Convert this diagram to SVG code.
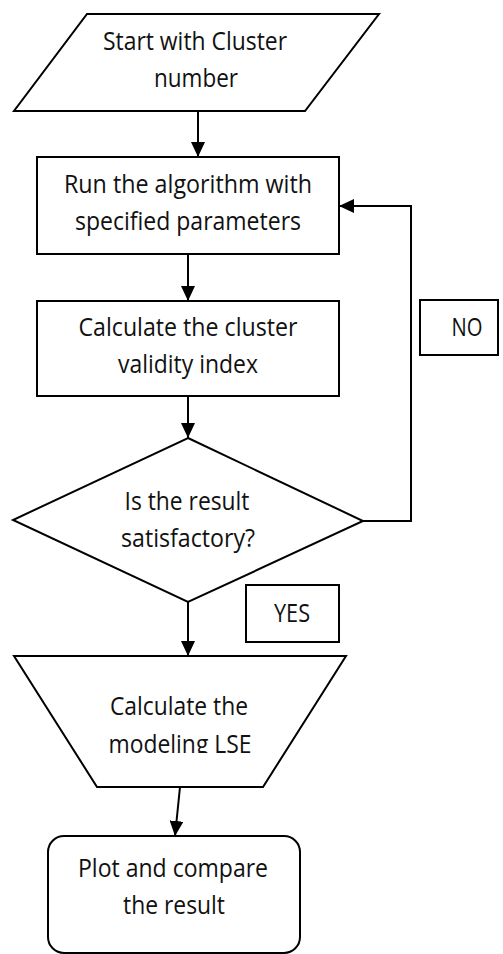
<svg xmlns="http://www.w3.org/2000/svg" width="503" height="954" viewBox="0 0 503 954">
<style>
.shape{fill:#fff;stroke:#000;stroke-width:2;stroke-linejoin:miter}
.conn{fill:none;stroke:#000;stroke-width:2}
text{font-family:"Open Sans","Noto Sans","Liberation Sans",sans-serif;font-size:25px;fill:#111;text-anchor:middle}
</style>
<defs>
<marker id="ah" markerUnits="userSpaceOnUse" markerWidth="15" markerHeight="14" refX="15" refY="7" orient="auto">
<path d="M0,0 L15,7 L0,14 z" fill="#000"/>
</marker>
<clipPath id="clipLSE"><rect x="0" y="0" width="503" height="753"/></clipPath>
</defs>
<rect width="503" height="954" fill="#fff"/>
<g id="connectors">
<line class="conn" x1="198" y1="111" x2="198" y2="157" marker-end="url(#ah)"/>
<line class="conn" x1="188" y1="254" x2="188" y2="301" marker-end="url(#ah)"/>
<line class="conn" x1="188" y1="396" x2="188" y2="438" marker-end="url(#ah)"/>
<line class="conn" x1="188" y1="602" x2="188" y2="656" marker-end="url(#ah)"/>
<line class="conn" x1="180" y1="787" x2="175" y2="836" marker-end="url(#ah)"/>
<polyline class="conn" points="363,521 411,521 411,206 339,206" marker-end="url(#ah)"/>
</g>
<g id="start">
<polygon class="shape" points="87,14 379,14 305,111 14,111"/>
<text x="195" y="50" textLength="184" lengthAdjust="spacingAndGlyphs">Start with Cluster</text>
<text x="196" y="87" textLength="84" lengthAdjust="spacingAndGlyphs">number</text>
</g>
<g id="run">
<rect class="shape" x="37" y="157" width="302" height="97"/>
<text x="188" y="193" textLength="248" lengthAdjust="spacingAndGlyphs">Run the algorithm with</text>
<text x="188" y="230" textLength="226" lengthAdjust="spacingAndGlyphs">specified parameters</text>
</g>
<g id="validity">
<rect class="shape" x="37" y="301" width="302" height="95"/>
<text x="188" y="336" textLength="219" lengthAdjust="spacingAndGlyphs">Calculate the cluster</text>
<text x="188" y="373" textLength="140" lengthAdjust="spacingAndGlyphs">validity index</text>
</g>
<g id="decision">
<polygon class="shape" points="188,438 363,521 188,602 13,520"/>
<text x="187" y="510" textLength="125" lengthAdjust="spacingAndGlyphs">Is the result</text>
<text x="188" y="547" textLength="134" lengthAdjust="spacingAndGlyphs">satisfactory?</text>
</g>
<g id="no-label">
<rect class="shape" x="420" y="300" width="78" height="55"/>
<text x="467" y="336" textLength="31" lengthAdjust="spacingAndGlyphs">NO</text>
</g>
<g id="yes-label">
<rect class="shape" x="246" y="585" width="93" height="57"/>
<text x="292" y="622" textLength="36" lengthAdjust="spacingAndGlyphs">YES</text>
</g>
<g id="lse">
<polygon class="shape" points="14,656 346,656 263,787 97,787"/>
<text x="179" y="715" textLength="138" lengthAdjust="spacingAndGlyphs">Calculate the</text>
<text x="180" y="753" textLength="143" lengthAdjust="spacingAndGlyphs" clip-path="url(#clipLSE)">modeling LSE</text>
</g>
<g id="plot">
<rect class="shape" x="48" y="836" width="252" height="117" rx="16" ry="16"/>
<text x="173" y="877" textLength="190" lengthAdjust="spacingAndGlyphs">Plot and compare</text>
<text x="174" y="914" textLength="102" lengthAdjust="spacingAndGlyphs">the result</text>
</g>
</svg>
